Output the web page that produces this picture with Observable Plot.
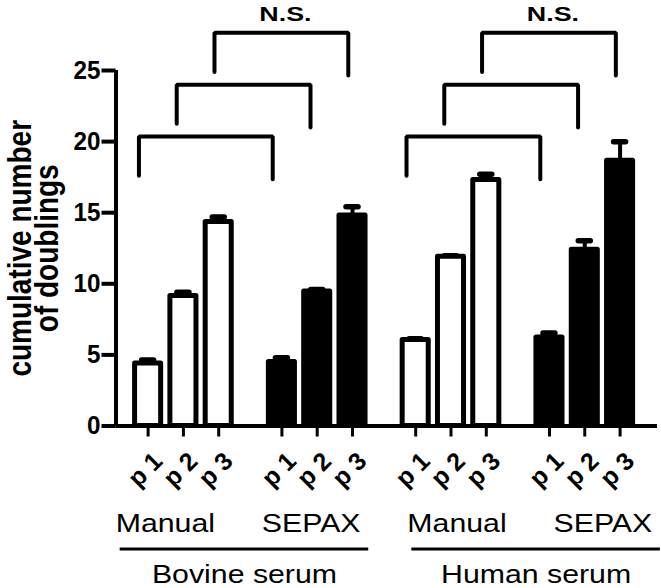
<!DOCTYPE html>
<html><head><meta charset="utf-8">
<script src="https://cdn.jsdelivr.net/npm/d3@7"></script>
<script src="https://cdn.jsdelivr.net/npm/@observablehq/plot@0.6"></script>
<style>
  html, body { margin: 0; padding: 0; background: #fff; }
</style>
</head>
<body>
<div id="chart"></div>
<script>
// ---------- data ----------
const sera = ["Bovine serum", "Human serum"];
const methods = ["Manual", "SEPAX"];
const passages = ["p 1", "p 2", "p 3"];

const bovineManualMean = [4.4, 9.15, 14.35];
const bovineManualSem  = [0.25, 0.25, 0.35];
const bovineSepaxMean  = [4.5, 9.45, 14.8];
const bovineSepaxSem   = [0.3, 0.15, 0.62];
const humanManualMean  = [6.05, 11.9, 17.3];
const humanManualSem   = [0.08, 0.08, 0.4];
const humanSepaxMean   = [6.22, 12.4, 18.66];
const humanSepaxSem    = [0.32, 0.62, 1.33];

const yTicks = [0, 5, 10, 15, 20, 25];
const bracketLevels = [20.35, 24.0, 27.65];   // height of each N.S. bracket
const bracketLabel = "N.S.";
const yTitle = "cumulative number\nof doublings";

// ---------- layout helpers (not data) ----------
const GROUP_STEP = 3.79;   // three bars plus the gap between groups
const HALF_BAR = 0.44;
const HALF_CAP = 0.17;
const LABEL_SPREAD = 1.09;
const BRACKET_STEP = 1.07; // nested brackets are spaced slightly wider than bars
const BRACKET_SHIFT = -0.26;

const meanTable = [[bovineManualMean, bovineSepaxMean], [humanManualMean, humanSepaxMean]];
const semTable  = [[bovineManualSem,  bovineSepaxSem ], [humanManualSem,  humanSepaxSem ]];

const rows = [];
sera.forEach((serum, s) => methods.forEach((method, m) => passages.forEach((p, i) => {
  const g = s * 2 + m;
  rows.push({serum, method, passage: p, s, m, i,
    pos: g * GROUP_STEP + i,
    mean: meanTable[s][m][i],
    top: meanTable[s][m][i] + semTable[s][m][i]});
})));
const lastPos = rows[rows.length - 1].pos;
const mid = lastPos / 2;

const groups = [];
sera.forEach((serum, s) => methods.forEach((method, m) => {
  const c = (s * 2 + m) * GROUP_STEP + 1;
  groups.push({serum, method, s, m, x: mid + (c - mid) * LABEL_SPREAD});
}));
const seraRows = sera.map((serum, s) => {
  const x1 = groups.find(g => g.s === s && g.m === 0).x - 1.28;
  const x2 = groups.find(g => g.s === s && g.m === 1).x + 1.63;
  return {serum, x1, x2, x: (x1 + x2) / 2};
});

const bracketPts = [];
const nsRows = [];
sera.forEach((serum, s) => {
  const l0 = rows.find(r => r.s === s && r.m === 0 && r.i === 0).pos;
  const r0 = rows.find(r => r.s === s && r.m === 1 && r.i === 0).pos;
  bracketLevels.forEach((h, i) => {
    const xl = l0 + i * BRACKET_STEP + BRACKET_SHIFT;
    const xr = r0 + i * BRACKET_STEP + BRACKET_SHIFT;
    const id = s + "-" + i;
    bracketPts.push({id, x: xl, y: h - 2.75}, {id, x: xl, y: h}, {id, x: xr, y: h}, {id, x: xr, y: h - 3.0});
    if (i === bracketLevels.length - 1) nsRows.push({x: (xl + xr) / 2, y: h, text: bracketLabel});
  });
});

const xMin = -0.91, xMax = 14.43;

const chart = Plot.plot({
  width: 661,
  height: 588,
  marginLeft: 115.5,
  marginRight: 4,
  marginTop: 70,
  marginBottom: 162.5,
  style: {fontFamily: "'Liberation Sans', Arial, sans-serif", background: "#fff", color: "#000", overflow: "visible"},
  x: {type: "linear", domain: [xMin, xMax], axis: null},
  y: {domain: [0, 25], axis: null},
  marks: [
    // error bars
    Plot.ruleX(rows, {x: "pos", y1: "mean", y2: "top", stroke: "#000", strokeWidth: 4}),
    Plot.ruleY(rows, {y: "top", x1: d => d.pos - HALF_CAP, x2: d => d.pos + HALF_CAP,
      stroke: "#000", strokeWidth: 5.5, strokeLinecap: "round"}),
    // bars
    Plot.rect(rows, {x1: d => d.pos - HALF_BAR, x2: d => d.pos + HALF_BAR, y1: 0, y2: "mean",
      fill: d => d.m === 0 ? "#fff" : "#000", stroke: "#000", strokeWidth: 5,
      strokeLinejoin: "round", insetLeft: 2.5, insetRight: 2.5}),
    // axes
    Plot.ruleY([0], {stroke: "#000", strokeWidth: 4}),
    Plot.ruleX([xMin], {y1: 0, y2: 25, stroke: "#000", strokeWidth: 4}),
    Plot.axisY(yTicks, {tickSize: 14, tickPadding: 1.5, fontSize: 25.5, fontWeight: "bold",
      strokeWidth: 4, label: null}),
    Plot.axisX(rows.map(d => d.pos), {tickSize: 11, tickFormat: () => "", strokeWidth: 3, label: null}),
    // text marks (order matters for the proportion pass below)
    Plot.text(rows, {x: "pos", text: "passage", frameAnchor: "bottom", dx: 10, dy: 31,
      rotate: -45, textAnchor: "end", lineAnchor: "middle", fontSize: 25, fontWeight: "bold"}),
    Plot.text(groups, {x: "x", text: "method", frameAnchor: "bottom", dy: 106, lineAnchor: "bottom",
      fontSize: 26}),
    Plot.ruleY(seraRows, {y: () => 0, x1: "x1", x2: "x2", dy: 123, stroke: "#000", strokeWidth: 3}),
    Plot.text(seraRows, {x: "x", text: "serum", frameAnchor: "bottom", dy: 157, lineAnchor: "bottom",
      fontSize: 26}),
    Plot.text([yTitle], {frameAnchor: "left", dx: -80.5, rotate: -90, fontSize: 28, fontWeight: "bold",
      lineHeight: 0.82, textAnchor: "middle", lineAnchor: "middle"}),
    // brackets
    Plot.line(bracketPts, {x: "x", y: "y", z: "id", stroke: "#000", strokeWidth: 4, strokeLinejoin: "miter"}),
    Plot.text(nsRows, {x: "x", y: "y", text: "text", dx: 4, dy: -12, lineAnchor: "bottom", fontSize: 21,
      fontWeight: "bold"})
  ]
});

// horizontal proportions of the original lettering (wide type)
function stretchEls(els, sx) {
  els.forEach(t => {
    const tr = t.getAttribute("transform") || "";
    const m = tr.match(/translate\([^)]*\)/);
    if (m) t.setAttribute("transform", tr.replace(m[0], m[0] + " scale(" + sx + ",1)"));
  });
}
const textGroups = [...chart.querySelectorAll('g[aria-label="text"]')];
// 0: passages, 1: methods, 2: sera, 3: y title, 4: N.S.
if (textGroups.length === 5) {
  stretchEls(textGroups[1].querySelectorAll("text"), 1.165);
  stretchEls(textGroups[2].querySelectorAll("text"), 1.165);
  stretchEls(textGroups[3].querySelectorAll("text"), 1.18);
  stretchEls(textGroups[4].querySelectorAll("text"), 1.28);
}
stretchEls(chart.querySelectorAll('g[aria-label="y-axis tick label"] text'), 0.95);

document.getElementById("chart").appendChild(chart);
</script>
</body></html>
